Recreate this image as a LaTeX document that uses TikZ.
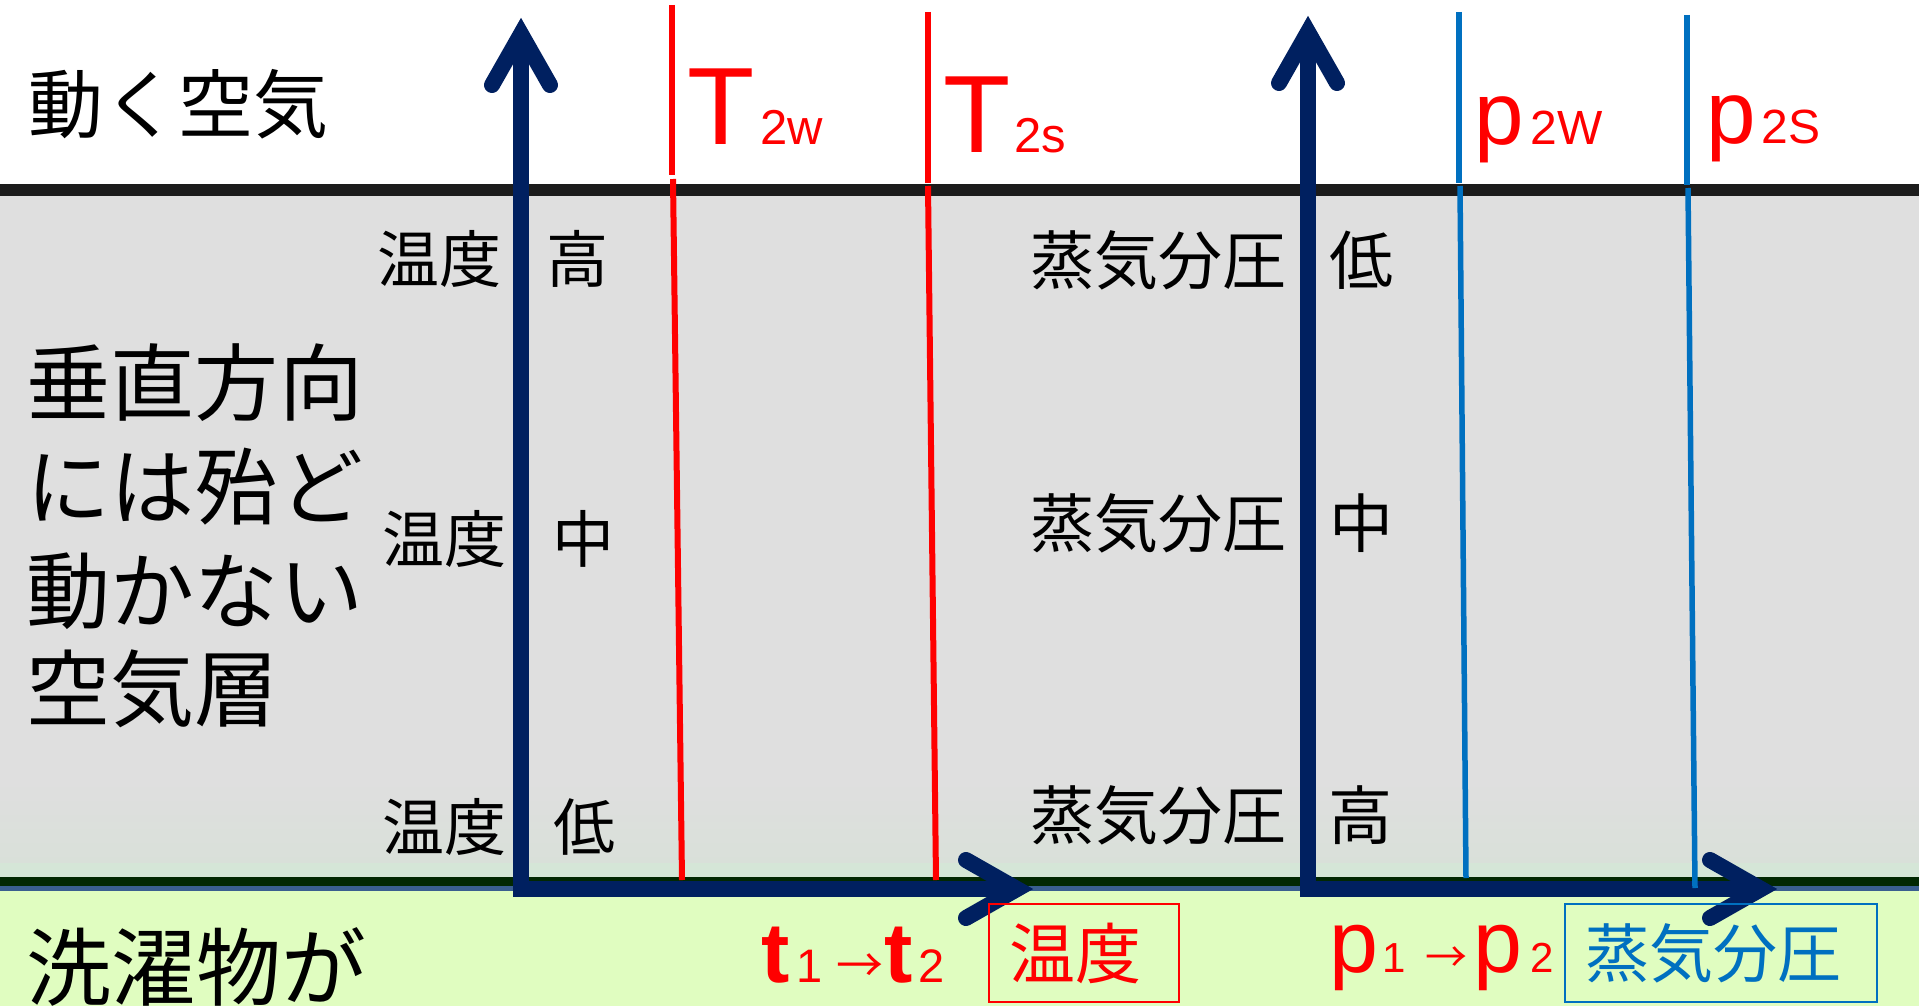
\documentclass[tikz,border=0pt]{standalone}
\usepackage{fontspec}
\setmainfont{Noto Sans CJK JP}
\newfontfamily\jpf{Noto Sans CJK JP}
\newfontfamily\latf{Liberation Sans}
\definecolor{navy}{HTML}{002060}
\definecolor{pred}{HTML}{FF0000}
\definecolor{pblue}{HTML}{0070C0}
\definecolor{bandblack}{HTML}{1C1C1C}
\definecolor{bggray}{HTML}{DFDFDF}
\definecolor{bggray2}{HTML}{D9E0D9}
\definecolor{bggray3}{HTML}{D5E6D7}
\definecolor{dkgreen}{HTML}{022802}
\definecolor{stripblue}{HTML}{3A5F8F}
\definecolor{ltgreen}{HTML}{E0FDC0}
\begin{document}
\begin{tikzpicture}[x=1pt,y=-1pt,
  axisline/.style={draw=navy,line width=16pt,line join=miter},
  barb/.style={draw=navy,line width=16pt,line cap=round,line join=miter},
  redln/.style={draw=pred,line width=6pt},
  blueln/.style={draw=pblue,line width=5.5pt},
  txt/.style={inner sep=0pt,outer sep=0pt},
  bigjp/.style={txt,anchor=base west,font=\jpf\fontsize{84}{84}\selectfont},
  midjp/.style={txt,anchor=base,font=\jpf\fontsize{62}{62}\selectfont},
  prjp/.style={txt,anchor=base,font=\jpf\fontsize{64}{64}\selectfont},
  latlbl/.style={txt,anchor=base west,text=pred},
  boxlbl/.style={txt,draw,line width=2pt,minimum height=98pt}
]
\useasboundingbox (0,0) rectangle (1919,1006);
% backgrounds
\fill[white] (0,0) rectangle (1919,1006);
\fill[bandblack] (0,184) rectangle (1919,196);
\fill[bggray] (0,196) rectangle (1919,877);
\shade[top color=bggray,bottom color=bggray2] (0,780) rectangle (1919,863);
\fill[bggray3] (0,863) rectangle (1919,877);
\fill[dkgreen] (0,877) rectangle (1919,886);
\fill[stripblue] (0,886) rectangle (1919,891);
\fill[ltgreen] (0,891) rectangle (1919,1006);

% axes
\draw[axisline] (521,34) -- (521,889) -- (1017,889);
\draw[barb] (492,85) -- (521,34) -- (550,85);
\draw[barb] (966,860) -- (1017,889) -- (966,918);
\draw[axisline] (1308,32) -- (1308,889) -- (1761,889);
\draw[barb] (1279,83) -- (1308,32) -- (1337,83);
\draw[barb] (1710,860) -- (1761,889) -- (1710,918);

% profile lines
\coordinate (a1) at (672,5);   \coordinate (a2) at (672,175);
\coordinate (a3) at (673,179); \coordinate (a4) at (682,880);
\coordinate (b1) at (928,12);  \coordinate (b2) at (928,183);
\coordinate (b3) at (928,186); \coordinate (b4) at (936,880);
\coordinate (c1) at (1459,12); \coordinate (c2) at (1459,183);
\coordinate (c3) at (1460,186);\coordinate (c4) at (1466,878);
\coordinate (d1) at (1687,15); \coordinate (d2) at (1687,185);
\coordinate (d3) at (1688,188);\coordinate (d4) at (1695,888);
\draw[redln] (a1) -- (a2); \draw[redln] (a3) -- (a4);
\draw[redln] (b1) -- (b2); \draw[redln] (b3) -- (b4);
\draw[blueln] (c1) -- (c2); \draw[blueln] (c3) -- (c4);
\draw[blueln] (d1) -- (d2); \draw[blueln] (d3) -- (d4);

% left texts
\node[txt,anchor=base west,font=\jpf\fontsize{75}{75}\selectfont] (moving) at (28,133) {動く空気};
\node[bigjp] (l1) at (27,414) {垂直方向};
\node[bigjp] (l2) at (27,518) {には殆ど};
\node[bigjp] (l3) at (27,622) {動かない};
\node[bigjp] (l4) at (27,720) {空気層};
\node[txt,anchor=base west,font=\jpf\fontsize{85}{85}\selectfont] (laundry) at (27,999) {洗濯物が};

% temperature labels
\node[midjp] (t1) at (439,282) {温度};
\node[midjp] (t2) at (444,562) {温度};
\node[midjp] (t3) at (444,850) {温度};
\node[midjp] (tv1) at (577,282) {高};
\node[midjp] (tv2) at (583,562) {中};
\node[midjp] (tv3) at (584,850) {低};

% vapour pressure labels
\node[prjp] (p1) at (1158,284) {蒸気分圧};
\node[prjp] (p2) at (1158,547) {蒸気分圧};
\node[prjp] (p3) at (1158,839) {蒸気分圧};
\node[prjp] (pv1) at (1361,284) {低};
\node[prjp] (pv2) at (1361,547) {中};
\node[prjp] (pv3) at (1360,839) {高};

% top latin labels
\node[latlbl] (T2w) at (687,145) {\latf\fontsize{110}{110}\selectfont T\hspace{6pt}\fontsize{49}{49}\selectfont 2w};
\node[latlbl] (T2s) at (943,153) {\latf\fontsize{110}{110}\selectfont T\hspace{4pt}\fontsize{49}{49}\selectfont 2s};
\node[latlbl] (p2W) at (1474,145) {\latf\fontsize{89}{89}\selectfont p\hspace{7pt}\fontsize{48}{48}\selectfont 2W};
\node[latlbl] (p2S) at (1706,143) {\latf\fontsize{89}{89}\selectfont p\hspace{6pt}\fontsize{48}{48}\selectfont 2S};

% bottom labels
\node[latlbl] (tt) at (761,982) {\latf\fontsize{85}{85}\selectfont\bfseries t\mdseries\hspace{7pt}\fontsize{47}{47}\selectfont 1\hspace{14pt}{\jpf →}\hspace{1pt}\fontsize{85}{85}\selectfont\bfseries t\mdseries\hspace{6pt}\fontsize{47}{47}\selectfont 2};
\node[latlbl] (pp) at (1329,972) {\latf\fontsize{88}{88}\selectfont p\hspace{5pt}\fontsize{42}{42}\selectfont 1\hspace{19pt}{\jpf →}\hspace{6pt}\fontsize{88}{88}\selectfont p\hspace{8pt}\fontsize{42}{42}\selectfont 2};

\node[boxlbl,draw=pred,text=pred,minimum width=190pt,font=\jpf\fontsize{66}{66}\selectfont] (tempbox) at (1084,953) {温度\rule{18pt}{0pt}};
\node[boxlbl,draw=pblue,text=pblue,minimum width=312pt,font=\jpf\fontsize{64}{64}\selectfont] (presbox) at (1721,953) {蒸気分圧\rule{15pt}{0pt}};
\end{tikzpicture}
\end{document}
